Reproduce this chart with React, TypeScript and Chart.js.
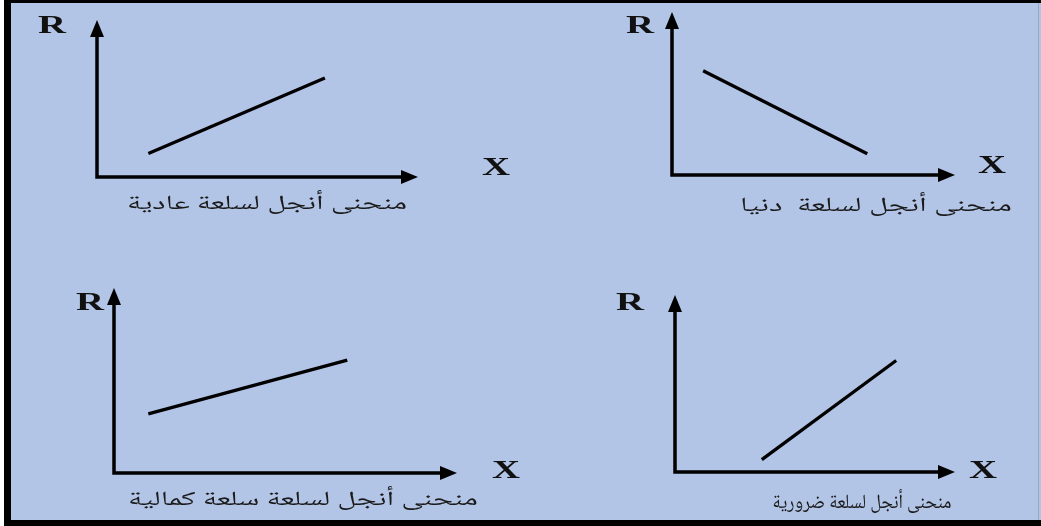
import React, { useEffect, useRef } from 'react';
import { Chart, registerables } from 'chart.js';

Chart.register(...registerables);

// ---- Data (values in abstract units: 0 = origin, 10 = arrow tip) ----
const normalX = [1.6, 7.1];
const normalR = [1.5, 6.3];
const inferiorX = [1.1, 6.9];
const inferiorR = [6.4, 1.3];
const luxuryX = [1.0, 6.8];
const luxuryR = [3.2, 6.1];
const necessityX = [3.1, 7.9];
const necessityR = [0.7, 6.3];

const captions = [
  'منحنى أنجل لسلعة عادية',
  'منحنى أنجل لسلعة  دنيا',
  'منحنى أنجل لسلعة سلعة كمالية',
  'منحنى أنجل لسلعة ضرورية',
];
const yAxisLabel = 'R';
const xAxisLabel = 'X';

const seriesX = [normalX, inferiorX, luxuryX, necessityX];
const seriesR = [normalR, inferiorR, luxuryR, necessityR];

// ---- Layout (pixels) ----
const W = 1041;
const H = 526;
const BG = '#b3c5e7';
const PANELS = [
  { area: { left: 97, top: 20, right: 418, bottom: 177 }, r: [52, 33], x: [496, 175], cap: [267, 206, 280] },
  { area: { left: 672, top: 12, right: 955, bottom: 175 }, r: [640, 33], x: [992, 173], cap: [876, 208, 272] },
  { area: { left: 114, top: 288, right: 457, bottom: 473 }, r: [90, 310], x: [506, 478], cap: [303, 502, 350] },
  { area: { left: 675, top: 295, right: 955, bottom: 472 }, r: [630, 310], x: [983, 478], cap: [862, 505, 179] },
];
const AH = 17; // arrow head length
const AW = 14; // arrow head width
const LABEL_STRETCH = 1.55;
const CAPTION_FONT = '20px "Noto Naskh Arabic", "Noto Naskh Arabic UI", "Amiri", "Scheherazade New", "Noto Sans Arabic", "KacstBook", "FreeSerif", serif';

function makeDecor(p: any, caption: string) {
  return {
    id: 'decor',
    beforeDatasetsDraw(chart: any) {
      const { ctx, chartArea } = chart;
      const { left, top, right, bottom } = chartArea;
      ctx.save();
      ctx.strokeStyle = '#000';
      ctx.fillStyle = '#000';
      ctx.lineWidth = 3.5;
      ctx.lineCap = 'butt';
      ctx.beginPath();
      ctx.moveTo(left, bottom + 1.75);
      ctx.lineTo(left, top + AH - 1);
      ctx.moveTo(left - 1.75, bottom);
      ctx.lineTo(right - AH + 1, bottom);
      ctx.stroke();
      ctx.beginPath();
      ctx.moveTo(left, top);
      ctx.lineTo(left - AW / 2, top + AH);
      ctx.lineTo(left + AW / 2, top + AH);
      ctx.closePath();
      ctx.fill();
      ctx.beginPath();
      ctx.moveTo(right, bottom);
      ctx.lineTo(right - AH, bottom - AW / 2);
      ctx.lineTo(right - AH, bottom + AW / 2);
      ctx.closePath();
      ctx.fill();
      ctx.restore();
    },
    afterDraw(chart: any) {
      const { ctx } = chart;
      ctx.save();
      ctx.fillStyle = '#111';
      ctx.font = 'bold 25px "Liberation Serif", "DejaVu Serif", serif';
      ctx.textAlign = 'center';
      ctx.textBaseline = 'alphabetic';
      const drawLabel = (t: string, x: number, y: number) => {
        ctx.save();
        ctx.translate(x, y);
        ctx.scale(LABEL_STRETCH, 1);
        ctx.fillText(t, 0, 0);
        ctx.restore();
      };
      drawLabel(yAxisLabel, p.r[0], p.r[1]);
      drawLabel(xAxisLabel, p.x[0], p.x[1]);
      ctx.font = CAPTION_FONT;
      ctx.direction = 'rtl';
      ctx.textBaseline = 'middle';
      const m = ctx.measureText(caption).width;
      ctx.translate(p.cap[0], p.cap[1]);
      ctx.scale(p.cap[2] / m, 1);
      ctx.fillStyle = '#1a1a1a';
      ctx.fillText(caption, 0, 0);
      ctx.restore();
    },
  };
}

function Panel({ idx }: { idx: number }) {
  const ref = useRef<HTMLCanvasElement>(null);
  useEffect(() => {
    const p = PANELS[idx];
    const a = p.area;
    const chart = new Chart(ref.current as HTMLCanvasElement, {
      type: 'line',
      data: {
        datasets: [
          {
            data: seriesX[idx].map((x, i) => ({ x, y: seriesR[idx][i] })),
            borderColor: '#000',
            borderWidth: 3.3,
            pointRadius: 0,
            tension: 0,
            fill: false,
          },
        ],
      },
      options: {
        responsive: false,
        maintainAspectRatio: false,
        devicePixelRatio: 1,
        animation: false,
        events: [],
        layout: { padding: { left: a.left, top: a.top, right: W - a.right, bottom: H - a.bottom } },
        scales: {
          x: { type: 'linear', min: 0, max: 10, display: false },
          y: { type: 'linear', min: 0, max: 10, display: false },
        },
        plugins: { legend: { display: false }, tooltip: { enabled: false }, title: { display: false } },
      },
      plugins: [makeDecor(p, captions[idx])],
    } as any);
    return () => chart.destroy();
  }, [idx]);
  return (
    <canvas
      ref={ref}
      width={W}
      height={H}
      style={{ position: 'absolute', left: 0, top: 0, width: W, height: H }}
    />
  );
}

export default function App() {
  useEffect(() => {
    document.body.style.margin = '0';
  }, []);
  return (
    <div style={{ position: 'relative', width: W, height: H, background: BG, overflow: 'hidden' }}>
      <div style={{ position: 'absolute', left: 0, top: 0, width: 4, height: H, background: '#fff' }} />
      <div style={{ position: 'absolute', left: 4, top: 0, width: 7, height: H, background: '#000' }} />
      <div style={{ position: 'absolute', left: 4, top: 0, width: W - 4, height: 3, background: '#000' }} />
      <div style={{ position: 'absolute', left: 4, top: 520, width: W - 4, height: 6, background: '#000' }} />
      <div style={{ position: 'absolute', left: W - 3, top: 3, width: 1, height: 517, background: '#9aa6bd' }} />
      {[0, 1, 2, 3].map((i) => (
        <Panel key={i} idx={i} />
      ))}
    </div>
  );
}
